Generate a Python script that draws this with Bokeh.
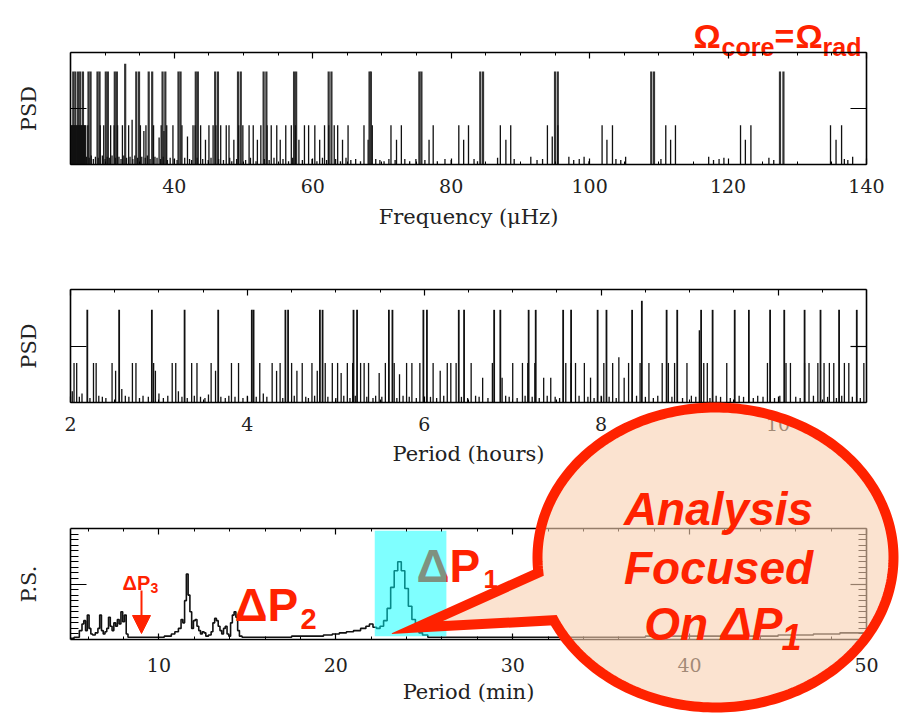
import numpy as np
from bokeh.plotting import figure
from bokeh.models import Range1d, LinearAxis, SingleIntervalTicker, FixedTicker, Arrow, NormalHead
from bokeh.core.properties import value
from bokeh.embed import file_html
from bokeh.resources import INLINE

# ---------------- data ----------------
# Panel 1: PSD vs frequency (muHz)
freq_tall = [25.4, 25.7, 26.1, 26.4, 26.8, 27.6, 27.9, 28.9, 29.2, 30.1, 30.4, 31.4, 31.7, 32.9,
             34.5, 34.9, 36.3, 36.8, 38.3, 38.7, 40.6, 40.9, 43.1, 43.4, 45.9, 46.3, 49.2, 49.6,
             52.9, 53.3, 57.3, 57.6, 62.3, 62.7, 68.2, 68.4, 75.4, 75.7, 84.2, 84.6, 95.0, 95.4,
             108.9, 109.3, 127.5, 128.0]
psd_freq_tall = [0.83, 0.83, 0.83, 0.83, 0.83, 0.83, 0.83, 0.83, 0.83, 0.83, 0.83, 0.83, 0.83, 0.90,
                 0.83, 0.83, 0.83, 0.83, 0.83, 0.83, 0.83, 0.83, 0.83, 0.83, 0.83, 0.83, 0.83, 0.83,
                 0.83, 0.83, 0.83, 0.83, 0.83, 0.83, 0.83, 0.83, 0.83, 0.83, 0.83, 0.83, 0.83, 0.83,
                 0.83, 0.83, 0.83, 0.83]
freq_mid = [25.1, 25.2, 25.3, 25.4, 25.5, 25.6, 25.7, 25.8, 25.9, 26.0, 26.1, 26.2, 26.3, 26.4,
            26.5, 26.6, 26.7, 26.8, 26.9, 27.0, 27.1, 27.2,
            27.5, 29.3, 29.8, 30.8, 31.3, 31.8, 32.5, 33.4, 33.9, 35.1, 35.6, 35.9, 37.0, 37.8,
            38.1, 38.5, 38.9, 39.8, 41.1, 41.9, 42.7, 43.0, 43.8, 44.5, 45.0, 45.6, 46.0, 46.7,
            47.5, 47.9, 48.6, 49.3, 49.9, 50.8, 51.4, 52.0, 52.5, 53.4, 54.0, 54.8, 55.3, 56.1,
            56.9, 57.5, 58.0, 58.8, 59.4, 60.3, 61.0, 61.7, 62.3, 63.1, 63.6, 64.3, 65.1, 67.4,
            68.0, 68.6, 71.3, 72.1, 72.8, 76.8, 77.4,
            81.1, 81.8, 82.5, 87.1, 87.9, 88.6, 93.9, 94.6, 95.4, 101.8, 102.5, 103.3,
            111.0, 111.7, 112.4, 121.8, 122.5, 123.3, 134.8, 135.6, 136.4]
psd_freq_mid = [0.35, 0.35, 0.35, 0.35, 0.35, 0.35, 0.35, 0.35, 0.35, 0.35, 0.35, 0.35, 0.35, 0.35,
                0.35, 0.35, 0.35, 0.35, 0.35, 0.35, 0.35, 0.35,
                0.35, 0.35, 0.35, 0.35, 0.35, 0.35, 0.35, 0.35, 0.40, 0.35, 0.30, 0.35, 0.35, 0.24,
                0.35, 0.30, 0.35, 0.35, 0.35, 0.25, 0.35, 0.35, 0.35, 0.22, 0.35, 0.35, 0.35, 0.35,
                0.35, 0.35, 0.22, 0.35, 0.35, 0.35, 0.35, 0.22, 0.35, 0.35, 0.35, 0.35, 0.22, 0.35,
                0.35, 0.35, 0.22, 0.35, 0.35, 0.35, 0.22, 0.35, 0.35, 0.35, 0.35, 0.22, 0.35, 0.35,
                0.22, 0.35, 0.35, 0.22, 0.35, 0.22, 0.35,
                0.35, 0.22, 0.35, 0.35, 0.22, 0.35, 0.35, 0.25, 0.35, 0.35, 0.22, 0.35,
                0.35, 0.22, 0.35, 0.35, 0.22, 0.35, 0.35, 0.22, 0.35]
freq_small = [27.3, 27.7, 28.0, 28.3, 28.6, 29.0, 29.6, 30.0, 30.3, 30.6,
              31.0, 31.5, 32.0, 32.3, 32.7, 33.1, 33.6, 34.0, 34.3, 34.7,
              35.3, 35.8, 36.1, 36.5, 37.2, 37.5, 38.0, 38.4, 39.0, 39.4,
              40.0, 40.4, 41.5, 42.2, 42.5, 43.3, 44.1, 44.9, 45.3, 46.4,
              47.1, 48.0, 48.3, 49.0, 50.3, 51.0, 51.8, 53.0, 53.7, 54.4,
              55.7, 56.5, 57.1, 58.5, 59.9, 60.6, 61.4, 62.0, 63.3, 64.0,
              64.8, 65.5, 66.2, 66.9, 69.1, 69.7, 70.3, 71.0, 71.9, 73.3,
              74.0, 74.9, 76.2, 78.0, 79.1, 80.0, 83.3, 83.8, 86.7, 89.1,
              91.5, 92.4, 93.2, 97.0, 97.7, 98.5, 99.2, 99.9, 103.8, 104.5,
              105.2, 110.3, 117.2, 117.9, 118.7, 119.4, 125.9, 126.6, 136.8, 137.3,
              138.0]
psd_freq_small = [0.07, 0.06, 0.08, 0.05, 0.07, 0.06, 0.08, 0.05, 0.07, 0.06,
                  0.08, 0.06, 0.07, 0.05, 0.08, 0.06, 0.07, 0.05, 0.08, 0.06,
                  0.07, 0.06, 0.08, 0.05, 0.07, 0.06, 0.05, 0.07, 0.04, 0.06,
                  0.05, 0.04, 0.06, 0.05, 0.04, 0.06, 0.05, 0.04, 0.06, 0.05,
                  0.04, 0.06, 0.03, 0.05, 0.04, 0.06, 0.03, 0.05, 0.04, 0.06,
                  0.05, 0.03, 0.06, 0.04, 0.05, 0.03, 0.06, 0.04, 0.05, 0.03,
                  0.06, 0.04, 0.05, 0.03, 0.05, 0.04, 0.03, 0.05, 0.04, 0.05,
                  0.03, 0.05, 0.04, 0.03, 0.05, 0.04, 0.05, 0.03, 0.06, 0.05,
                  0.07, 0.04, 0.05, 0.07, 0.04, 0.05, 0.07, 0.03, 0.05, 0.04,
                  0.07, 0.05, 0.07, 0.04, 0.05, 0.06, 0.06, 0.04, 0.05, 0.04,
                  0.07]

# Panel 2: PSD vs period (hours)
hours_tall = [2.19, 2.55, 2.92, 3.29, 3.67, 4.05, 4.07, 4.43, 4.46, 4.82, 4.85, 5.20, 5.24,
              5.60, 5.64, 5.99, 6.03, 6.39, 6.45, 6.79, 6.86, 7.18, 7.26, 7.57, 7.66, 7.96,
              8.06, 8.35, 8.46, 8.74, 8.86, 9.13, 9.26, 9.51, 9.67, 9.91, 10.07, 10.30, 10.48,
              10.69, 10.89]
psd_hours_tall = [0.82, 0.82, 0.82, 0.82, 0.82, 0.82, 0.82, 0.82, 0.82, 0.82, 0.82, 0.82, 0.82,
                  0.82, 0.82, 0.82, 0.82, 0.82, 0.82, 0.82, 0.82, 0.82, 0.82, 0.82, 0.82, 0.82,
                  0.82, 0.82, 0.90, 0.82, 0.82, 0.82, 0.82, 0.82, 0.82, 0.82, 0.82, 0.82, 0.82,
                  0.82, 0.82]
hours_mid = [2.04, 2.07, 2.26, 2.29, 2.47, 2.51, 2.70, 2.74, 2.94, 2.96,
             3.15, 3.19, 3.37, 3.43, 3.59, 3.64, 3.82, 3.90, 4.14, 4.28,
             4.33, 4.37, 4.50, 4.56, 4.62, 4.73, 4.79, 4.88, 4.96, 5.02,
             5.06, 5.13, 5.19, 5.28, 5.32, 5.37, 5.49, 5.56, 5.66, 5.72,
             5.80, 5.86, 5.95, 6.10, 6.18, 6.26, 6.30, 6.36, 6.53, 6.66,
             6.77, 6.88, 7.00, 7.11, 7.17, 7.25, 7.35, 7.43, 7.60, 7.66,
             7.71, 7.81, 7.88, 8.03, 8.13, 8.20, 8.26, 8.31, 8.44, 8.54,
             8.69, 8.76, 8.83, 8.97, 9.11, 9.16, 9.20, 9.42, 9.88, 10.09,
             10.14, 10.30, 10.35, 10.45, 10.52, 10.58, 10.63, 10.75, 10.80, 10.97]
psd_hours_mid = [0.35, 0.35, 0.35, 0.35, 0.35, 0.28, 0.35, 0.35, 0.35, 0.28,
                 0.35, 0.35, 0.35, 0.35, 0.35, 0.28, 0.35, 0.35, 0.35, 0.35,
                 0.28, 0.35, 0.35, 0.28, 0.35, 0.35, 0.28, 0.35, 0.35, 0.35,
                 0.26, 0.35, 0.35, 0.35, 0.35, 0.35, 0.26, 0.35, 0.35, 0.25,
                 0.35, 0.35, 0.35, 0.35, 0.28, 0.35, 0.35, 0.35, 0.35, 0.22,
                 0.35, 0.22, 0.35, 0.35, 0.35, 0.35, 0.22, 0.22, 0.35, 0.35,
                 0.35, 0.35, 0.22, 0.35, 0.35, 0.40, 0.22, 0.35, 0.35, 0.35,
                 0.35, 0.35, 0.35, 0.35, 0.64, 0.35, 0.35, 0.35, 0.35, 0.35,
                 0.35, 0.35, 0.35, 0.35, 0.35, 0.35, 0.35, 0.35, 0.35, 0.35]
hours_small = [2.02, 2.10, 2.13, 2.22, 2.32, 2.36, 2.40, 2.58, 2.62, 2.66,
               2.78, 2.82, 2.88, 3.00, 3.05, 3.10, 3.22, 3.26, 3.32, 3.40,
               3.47, 3.52, 3.56, 3.70, 3.75, 3.79, 3.86, 3.95, 4.00, 4.10,
               4.18, 4.22, 4.40, 4.53, 4.66, 4.69, 4.76, 4.91, 5.00, 5.09,
               5.16, 5.22, 5.35, 5.42, 5.45, 5.52, 5.69, 5.76, 5.83, 5.91,
               6.07, 6.14, 6.22, 6.42, 6.49, 6.58, 6.62, 6.72, 6.92, 6.96,
               7.05, 7.14, 7.22, 7.30, 7.39, 7.48, 7.53, 7.75, 7.85, 7.92,
               8.00, 8.09, 8.17, 8.40, 8.50, 8.59, 8.64, 8.80, 8.92, 9.02,
               9.07, 9.23, 9.30, 9.35, 9.46, 9.56, 9.61, 9.72, 9.77, 9.83,
               9.96, 10.02, 10.20, 10.25, 10.40, 10.56, 10.66, 10.72, 10.84, 10.93]
psd_hours_small = [0.10, 0.05, 0.08, 0.04, 0.06, 0.05, 0.04, 0.12, 0.06, 0.05,
                   0.04, 0.06, 0.05, 0.08, 0.04, 0.06, 0.10, 0.05, 0.04, 0.06,
                   0.05, 0.04, 0.07, 0.05, 0.04, 0.06, 0.05, 0.04, 0.06, 0.05,
                   0.08, 0.05, 0.04, 0.06, 0.05, 0.04, 0.06, 0.05, 0.04, 0.06,
                   0.04, 0.06, 0.05, 0.04, 0.06, 0.05, 0.04, 0.06, 0.05, 0.04,
                   0.05, 0.04, 0.06, 0.05, 0.04, 0.06, 0.05, 0.04, 0.06, 0.05,
                   0.04, 0.06, 0.05, 0.04, 0.06, 0.05, 0.04, 0.06, 0.05, 0.04,
                   0.06, 0.05, 0.04, 0.06, 0.05, 0.04, 0.06, 0.05, 0.04, 0.06,
                   0.05, 0.04, 0.06, 0.05, 0.04, 0.06, 0.05, 0.04, 0.06, 0.05,
                   0.04, 0.06, 0.05, 0.04, 0.06, 0.05, 0.04, 0.06, 0.05, 0.04]

# Panel 3: power spectrum vs period (min)
period_min = [5.0, 5.4, 5.6, 5.7, 5.8, 5.9, 6.0, 6.1, 6.2, 6.3, 6.5, 6.6, 6.7, 6.8, 6.9,
              7.0, 7.1, 7.2, 7.3, 7.4, 7.5, 7.6, 7.7, 7.8, 7.9, 8.0, 8.1, 8.2, 8.3, 9.0,
              10.0, 10.6, 10.8, 11.0, 11.2, 11.3, 11.4, 11.5, 11.6, 11.7, 11.8, 11.9, 12.0,
              12.1, 12.2, 12.3, 12.4, 12.5, 12.6, 12.7, 12.9, 13.0, 13.1, 13.2, 13.3, 13.4,
              13.5, 13.6, 13.7, 13.8, 13.9, 14.0, 14.1, 14.2, 14.3, 14.4, 14.5, 14.6, 14.8,
              16.0, 17.0, 18.0, 19.0, 19.6, 20.0, 20.4, 20.8, 21.2, 21.6, 21.8, 22.0, 22.2,
              22.4, 22.6, 22.8, 23.0, 23.2, 23.4, 23.6, 23.8, 24.0, 24.2, 24.4, 24.6, 24.8,
              25.0, 25.4, 30.0, 35.0, 40.0, 44.0, 46.0, 48.0, 49.0, 50.0]
power_spec = [0.01, 0.02, 0.08, 0.14, 0.17, 0.08, 0.22, 0.10, 0.05, 0.04, 0.06, 0.10, 0.22, 0.08, 0.05,
              0.07, 0.10, 0.20, 0.12, 0.08, 0.15, 0.12, 0.18, 0.14, 0.25, 0.16, 0.22, 0.05, 0.02, 0.02,
              0.02, 0.03, 0.05, 0.07, 0.10, 0.18, 0.15, 0.35, 0.59, 0.40, 0.25, 0.10, 0.17,
              0.18, 0.12, 0.08, 0.05, 0.07, 0.06, 0.03, 0.04, 0.07, 0.15, 0.19, 0.17, 0.12,
              0.08, 0.05, 0.10, 0.12, 0.05, 0.03, 0.15, 0.22, 0.25, 0.20, 0.08, 0.03, 0.02,
              0.02, 0.02, 0.03, 0.03, 0.04, 0.05, 0.06, 0.07, 0.08, 0.10, 0.12, 0.14, 0.11,
              0.10, 0.12, 0.17, 0.28, 0.47, 0.62, 0.70, 0.62, 0.46, 0.30, 0.18, 0.10, 0.06,
              0.04, 0.02, 0.02, 0.02, 0.03, 0.03, 0.04, 0.05, 0.06, 0.06]
focus_window = (22.2, 26.25)   # highlighted period range (min)

# ---------------- styling / layout ----------------
RED = "#ff2200"
INK = "#111111"
SERIF = "DejaVu Serif"
SANS = "Liberation Sans"
W, H = 899, 715

GEOM = {  # data x-limits and frame box in pixels (left, right, bottom, top)
    "f": dict(xlim=(25, 140), box=(70, 866, 164, 52)),
    "h": dict(xlim=(2, 11), box=(70, 866, 402, 289)),
    "m": dict(xlim=(5, 50), box=(70, 866, 639, 528)),
}

p = figure(width=W, height=H, x_range=Range1d(0, W), y_range=Range1d(H, 0),
           x_axis_type=None, y_axis_type=None, toolbar_location=None,
           output_backend="svg", min_border=0, outline_line_color=None)
p.background_fill_color = "white"
p.border_fill_color = "white"

xr, yr = {}, {}
for k, g in GEOM.items():
    (x0, x1), (pl, pr, pb, pt) = g["xlim"], g["box"]
    sx = (x1 - x0) / (pr - pl)
    xr["x" + k] = Range1d(x0 - pl * sx, x1 + (W - pr) * sx)
    sy = 1.0 / (pb - pt)
    yr["y" + k] = Range1d(-(H - pb) * sy, 1 + pt * sy)
p.extra_x_ranges = xr
p.extra_y_ranges = yr


def style_axis(ax, labels):
    ax.axis_line_color = "black"
    ax.axis_line_width = 1.6
    ax.major_tick_line_color = "black"
    ax.major_tick_line_width = 1.2
    ax.minor_tick_line_color = "black"
    ax.minor_tick_line_width = 1
    ax.major_tick_out = 0
    ax.minor_tick_out = 0
    ax.major_label_text_font = SERIF
    ax.major_label_text_font_size = "19px"
    ax.major_label_text_color = "#222222" if labels else None
    ax.axis_label_text_font = SERIF
    ax.axis_label_text_font_size = "21px"
    ax.axis_label_text_font_style = "normal"
    ax.axis_label_text_color = "#222222"


def panel_axes(k, interval, n_minor, xlabel, ylabel, y_minor, x_tick, y_tick,
               label_standoff, title_standoff, ylabel_standoff):
    x0, x1 = GEOM[k]["xlim"]
    names = dict(x_range_name="x" + k, y_range_name="y" + k)
    for side, loc in (("below", 0), ("above", 1)):
        ax = LinearAxis(fixed_location=loc, bounds=(x0, x1),
                        ticker=SingleIntervalTicker(interval=interval, num_minor_ticks=n_minor), **names)
        style_axis(ax, labels=(side == "below"))
        ax.major_tick_in, ax.minor_tick_in = x_tick
        if side == "below":
            ax.axis_label = xlabel
            ax.major_label_standoff = label_standoff
            ax.axis_label_standoff = title_standoff
        p.add_layout(ax, side)
    for side, loc in (("left", x0), ("right", x1)):
        ax = LinearAxis(fixed_location=loc, bounds=(0, 1),
                        ticker=FixedTicker(ticks=[0.5], minor_ticks=y_minor), **names)
        style_axis(ax, labels=False)
        ax.major_label_overrides = {0.5: ""}
        ax.major_label_standoff = 0
        ax.major_tick_in, ax.minor_tick_in = y_tick
        if side == "left":
            ax.axis_label = ylabel
            ax.axis_label_standoff = ylabel_standoff
        p.add_layout(ax, side)


# ---- spectra ----
for xs, ys, lw, col in ((freq_tall, psd_freq_tall, 2.2, "#333333"),
                        (freq_mid, psd_freq_mid, 1.3, INK),
                        (freq_small, psd_freq_small, 1.3, INK)):
    p.segment(x0=xs, y0=[0] * len(xs), x1=xs, y1=ys, line_color=col, line_width=lw,
              x_range_name="xf", y_range_name="yf")
for xs, ys, lw in ((hours_tall, psd_hours_tall, 1.8), (hours_mid, psd_hours_mid, 1.3),
                   (hours_small, psd_hours_small, 1.3)):
    p.segment(x0=xs, y0=[0] * len(xs), x1=xs, y1=ys, line_color=INK, line_width=lw,
              x_range_name="xh", y_range_name="yh")
p.step(period_min, power_spec, mode="center", line_color=INK, line_width=1.6,
       x_range_name="xm", y_range_name="ym")

minor_3 = [0.05, 0.1, 0.15, 0.2, 0.25, 0.3, 0.35, 0.4, 0.45, 0.55, 0.6, 0.65, 0.7, 0.75,
           0.8, 0.85, 0.9, 0.95]
panel_axes("f", 20, 4, "Frequency (\u03bcHz)", "PSD", [], (6, 3), (16, 0), 14, 9, 30)
panel_axes("h", 2, 4, "Period (hours)", "PSD", [], (6, 3), (16, 0), 14, 8, 30)
panel_axes("m", 10, 5, "Period (min)", "P.S.", minor_3, (6, 3), (16, 8), 18, 5, 30)

# ---- annotations in panel 3 ----
def txt(x, y, s, size, color=RED, style="bold", align="left", level="glyph"):
    p.text(x=[x], y=[y], text=[s], text_font=value(SANS), text_font_size=size,
           text_font_style=style, text_color=color, text_align=align,
           text_baseline="alphabetic", level=level)

txt(122, 582, "\u0394P", "20px")
txt(150, 587, "3", "14px")
p.add_layout(Arrow(end=NormalHead(size=18, fill_color=RED, line_color=RED),
                   x_start=141, y_start=590, x_end=141, y_end=633,
                   line_color=RED, line_width=2))
txt(234, 604, "\u0394P", "46px")
txt(300, 618, "2", "29px")
txt(416, 565, "\u0394P", "46px")
txt(483, 578, "1", "26px")

p.quad(left=[focus_window[0]], right=[focus_window[1]], bottom=[0.03], top=[0.98],
       fill_color="cyan", fill_alpha=0.5, line_color=None,
       x_range_name="xm", y_range_name="ym")

# ---- title ----
txt(693, 35, "\u03a9", "34px")
txt(721, 46, "core", "25px")
txt(774, 35, "=", "34px")
txt(795, 35, "\u03a9", "34px")
txt(822, 46, "rad", "25px")

# ---- speech bubble ----
cx, cy, ra, rb = 715, 557, 178, 150
tail_tip = (416, 627)
t = np.linspace(3.04, 2.71 + 2 * np.pi, 240)
bx = list(cx + ra * np.cos(t)) + [tail_tip[0]]
by = list(cy + rb * np.sin(t)) + [tail_tip[1]]
p.patch(bx, by, fill_color="#f9d0b0", fill_alpha=0.6, line_color=RED, line_width=10,
        line_join="miter", level="overlay")
txt(718, 508, "Analysis", "46px", style="bold italic", align="center", level="overlay")
txt(718, 567, "Focused", "46px", style="bold italic", align="center", level="overlay")
txt(782, 623, "On \u0394P", "46px", style="bold italic", align="right", level="overlay")
txt(781, 636, "1", "36px", style="bold italic", level="overlay")

open("out.html", "w").write(file_html(p, INLINE))
